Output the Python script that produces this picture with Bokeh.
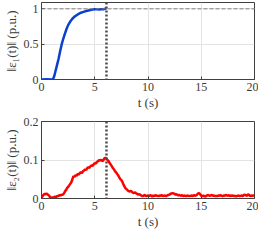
import numpy as np
from bokeh.plotting import figure
from bokeh.layouts import column
from bokeh.models import Span, FixedTicker
from bokeh.embed import file_html
from bokeh.resources import INLINE

# ---- data ----
t1 = [0, 0.5, 1.0, 1.1, 1.2, 1.3, 1.45, 1.6, 1.75, 1.9, 2.05, 2.2, 2.35, 2.5, 2.7, 2.9,
      3.1, 3.3, 3.5, 3.7, 3.95, 4.2, 4.4, 4.6, 4.8, 5.0, 5.2, 5.4, 5.6, 5.8, 6.0, 6.1]
e1 = [0, 0.002, 0.0, 0.01, 0.05, 0.11, 0.2, 0.29, 0.4, 0.5, 0.58, 0.65, 0.715, 0.77, 0.82, 0.86,
      0.89, 0.91, 0.93, 0.945, 0.958, 0.97, 0.977, 0.984, 0.99, 0.993, 0.994, 0.992, 0.996, 0.995, 1.0, 1.0]

e2 = [0.003, 0.006, 0.010, 0.012, 0.011, 0.013, 0.010, 0.008, 0.004, 0.002,
      0.003, 0.002, 0.004, 0.005, 0.004, 0.007, 0.006, 0.009, 0.008, 0.010,
      0.010, 0.013, 0.018, 0.022, 0.027, 0.030, 0.034, 0.038, 0.042, 0.050,
      0.058, 0.056, 0.061, 0.059, 0.064, 0.062, 0.066, 0.068, 0.066, 0.071,
      0.073, 0.076, 0.074, 0.079, 0.081, 0.080, 0.084, 0.086, 0.085, 0.089,
      0.092, 0.091, 0.095, 0.097, 0.100, 0.098, 0.101, 0.097, 0.099, 0.104,
      0.106, 0.103, 0.100, 0.097, 0.092, 0.088, 0.084, 0.079, 0.076, 0.071,
      0.068, 0.064, 0.060, 0.055, 0.050, 0.048, 0.043, 0.036, 0.031, 0.026,
      0.024, 0.021, 0.019, 0.018, 0.020, 0.017, 0.015, 0.014, 0.016, 0.013,
      0.012, 0.010, 0.011, 0.009, 0.007, 0.006, 0.008, 0.009, 0.006, 0.007,
      0.008, 0.006, 0.009, 0.007, 0.005, 0.008, 0.006, 0.009, 0.007, 0.007,
      0.006, 0.008, 0.007, 0.009, 0.006, 0.007, 0.008, 0.006, 0.008, 0.009,
      0.010, 0.012, 0.013, 0.014, 0.013, 0.012, 0.010, 0.011, 0.008, 0.009,
      0.008, 0.007, 0.009, 0.006, 0.008, 0.007, 0.006, 0.008, 0.007, 0.006,
      0.007, 0.008, 0.006, 0.009, 0.007, 0.008, 0.010, 0.013, 0.014, 0.011,
      0.007, 0.006, 0.008, 0.006, 0.005, 0.007, 0.009, 0.008, 0.007, 0.008,
      0.009, 0.007, 0.008, 0.006, 0.007, 0.006, 0.008, 0.007, 0.009, 0.007,
      0.006, 0.008, 0.007, 0.009, 0.008, 0.007, 0.009, 0.006, 0.008, 0.007,
      0.008, 0.006, 0.007, 0.005, 0.007, 0.008, 0.006, 0.007, 0.008, 0.006,
      0.009, 0.010, 0.008, 0.007, 0.011, 0.009, 0.006, 0.008, 0.007, 0.008,
      0.007]
t2 = [round(i * 0.1, 1) for i in range(len(e2))]

x_ticks = [0, 5, 10, 15, 20]
y1_ticks = [0, 0.5, 1]
y2_ticks = [0, 0.1, 0.2]
t_switch = 6.1

FONT = "Liberation Serif"
AX = "#404040"
TXT = "#3a3a3a"


def style(p, yticks, ylabel):
    p.xaxis.ticker = FixedTicker(ticks=x_ticks)
    p.yaxis.ticker = FixedTicker(ticks=yticks)
    p.xaxis.axis_label = "t (s)"
    p.yaxis.axis_label = ylabel
    for ax in (p.xaxis[0], p.yaxis[0]):
        ax.axis_label_text_font = FONT
        ax.axis_label_text_font_style = "normal"
        ax.axis_label_text_font_size = "13px"
        ax.axis_label_text_color = TXT
        ax.major_label_text_font = FONT
        ax.major_label_text_font_size = "12px"
        ax.major_label_text_color = TXT
        ax.major_tick_in = 3
        ax.major_tick_out = 0
        ax.minor_tick_line_color = None
        ax.axis_line_color = AX
        ax.major_tick_line_color = AX
        ax.major_label_standoff = 3
    p.xaxis.axis_label_standoff = 1
    p.yaxis.axis_label_standoff = 2
    p.grid.grid_line_color = "#e3e3e3"
    p.outline_line_color = AX
    p.outline_line_alpha = 1
    p.background_fill_color = "white"
    p.border_fill_color = "white"
    p.add_layout(Span(location=t_switch, dimension="height", line_color="#4a4a4a",
                      line_width=2.5, line_dash="2 2"))


p1 = figure(width=258, height=112, x_range=(0, 20), y_range=(0, 1.09),
            output_backend="svg", toolbar_location=None,
            min_border_top=2, min_border_right=4, min_border_left=0, min_border_bottom=0)
style(p1, y1_ticks, "‖ε₁(t)‖ (p.u.)")
p1.add_layout(Span(location=1, dimension="width", line_color="#808080",
                   line_width=1, line_dash="4 2"))
p1.line(t1, e1, line_color="#0a3fd0", line_width=2.5)

p2 = figure(width=258, height=119, x_range=(0, 20), y_range=(0, 0.2),
            output_backend="svg", toolbar_location=None,
            min_border_top=9, min_border_right=4, min_border_left=0, min_border_bottom=0)
style(p2, y2_ticks, "‖ε₂(t)‖ (p.u.)")
p2.line(t2, e2, line_color="#ff0000", line_width=2.5)

layout = column(p1, p2, spacing=0)
open("out.html", "w").write(file_html(layout, INLINE))
